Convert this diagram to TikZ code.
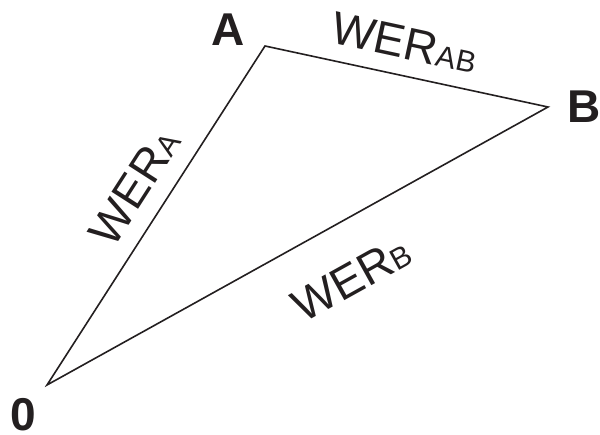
\documentclass[tikz,border=0pt]{standalone}
\usepackage{fontspec}
\setmainfont{Liberation Sans}
\usepackage{xcolor}
\usepackage{tikz}
\usetikzlibrary{positioning}
\definecolor{ink}{HTML}{231F20}
\newcommand{\sub}[1]{{\fontsize{30}{30}\selectfont #1}}
\tikzset{
  side/.style  ={line width=1.6pt,draw=ink,line join=miter},
  vlabel/.style={font=\fontsize{46}{50}\selectfont\bfseries,text=ink,inner sep=0pt},
  wer/.style   ={font=\fontsize{46}{50}\selectfont,text=ink,inner sep=0pt,sloped}
}
\begin{document}
\begin{tikzpicture}[x=1pt,y=1pt]
    \useasboundingbox (0,0) rectangle (600,435);
    \coordinate (o) at (47,50);
    \coordinate (a) at (265,389);
    \coordinate (b) at (548,328);
    \node[vlabel,above left=0pt and 20pt of a] (la) {A};
    \node[vlabel,right=19pt of b] (lb) {B};
    \node[vlabel,below left=13pt and 11pt of o] (lo) {0};
    \draw[side] (o) -- node[wer,pos=0.53,above=17pt]{WER\sub{A}} (a)
                    -- node[wer,pos=0.47,above=16pt]{WER\sub{AB}} (b)
                    -- node[wer,pos=0.445,below=38pt]{WER\sub{B}} cycle;
  \end{tikzpicture}
\end{document}
